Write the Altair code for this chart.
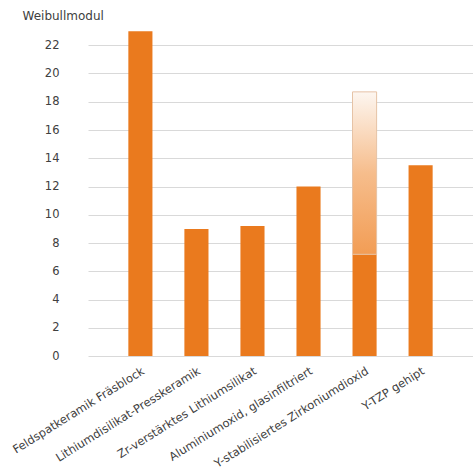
import altair as alt
import pandas as pd

# Weibull modulus per ceramic material
materials = [
    "Feldspatkeramik Fräsblock",
    "Lithiumdisilikat-Presskeramik",
    "Zr-verstärktes Lithiumsilikat",
    "Aluminiumoxid, glasinfiltriert",
    "Y-stabilisiertes Zirkoniumdioxid",
    "Y-TZP gehipt",
]
weibull = [23.0, 9.0, 9.2, 12.0, 7.2, 13.5]
# upper end of the reported range (only for the zirconia entry)
range_top = [None, None, None, None, 18.7, None]
y_ticks = [0, 2, 4, 6, 8, 10, 12, 14, 16, 18, 20, 22]

ORANGE = "#ea7a1e"
FONT = "DejaVu Sans"
TEXT = "#404040"

df = pd.DataFrame({"material": materials, "weibull": weibull, "top": range_top})

x_scale = alt.Scale(paddingInner=0.57, paddingOuter=0.72)
y_scale = alt.Scale(domain=[0, 24], nice=False)

x_axis = alt.Axis(
    labelAngle=-32,
    labelAlign="right",
    labelBaseline="top",
    labelFont=FONT,
    labelFontSize=11.5,
    labelColor=TEXT,
    labelPadding=9,
    labelOverlap=False,
    labelLimit=300,
    ticks=False,
    domain=False,
    grid=False,
)

y_axis = alt.Axis(
    values=y_ticks,
    labelFont=FONT,
    labelFontSize=11.5,
    labelColor=TEXT,
    labelPadding=29,
    labelOverlap=False,
    ticks=False,
    domain=False,
    grid=True,
    gridColor="#d9d9d9",
    gridWidth=1,
    titleAngle=0,
    titleAlign="left",
    titleBaseline="middle",
    titleX=-66,
    titleY=-2,
    titleFont=FONT,
    titleFontSize=12,
    titleFontWeight="normal",
    titleColor=TEXT,
)

x_enc = alt.X("material:N", sort=materials, title=None, scale=x_scale, axis=x_axis)

bars = alt.Chart(df).mark_bar(color=ORANGE).encode(
    x=x_enc,
    y=alt.Y("weibull:Q", scale=y_scale, title="Weibullmodul", axis=y_axis),
)

fade = alt.Gradient(
    gradient="linear",
    stops=[
        alt.GradientStop(color="#f29d55", offset=0),
        alt.GradientStop(color="#f6bd8c", offset=0.5),
        alt.GradientStop(color="#fdf6f0", offset=1),
    ],
    x1=0, x2=0, y1=1, y2=0,
)

range_bar = alt.Chart(df).transform_filter(
    "isValid(datum.top)"
).mark_bar(color=fade, stroke="#e6c3a6", strokeWidth=1).encode(
    x=x_enc,
    y=alt.Y("weibull:Q", scale=y_scale, title="Weibullmodul", axis=y_axis),
    y2="top:Q",
)

chart = alt.layer(bars, range_bar).properties(
    width=385,
    height=339,
    background="white",
    autosize=alt.AutoSizeParams(type="none"),
    padding={"left": 88, "top": 17, "right": 0, "bottom": 114},
).configure_view(stroke=None)

chart.save("out.html", embed_options={"renderer": "svg", "actions": False})
